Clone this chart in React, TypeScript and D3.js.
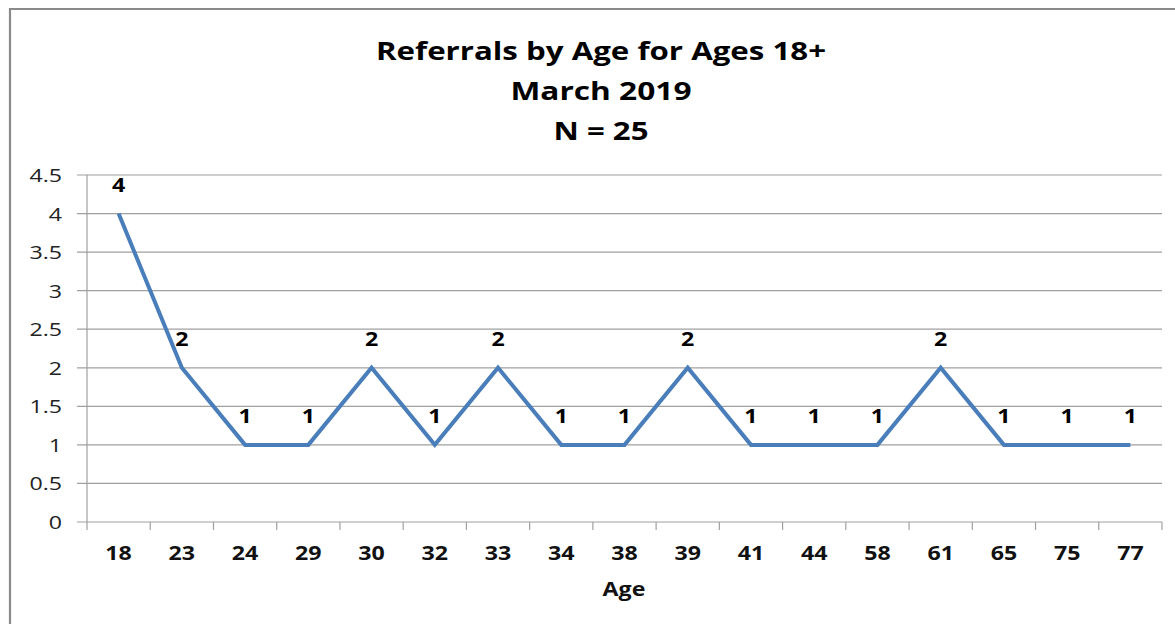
import React from "react";
import * as d3 from "d3";

const ages = ["18","23","24","29","30","32","33","34","38","39","41","44","58","61","65","75","77"];
const referrals = [4,2,1,1,2,1,2,1,1,2,1,1,1,2,1,1,1];
const yTicks = [0,0.5,1,1.5,2,2.5,3,3.5,4,4.5];
const titleLines = ["Referrals by Age for Ages 18+","March 2019","N = 25"];
const titleWidths = [450, 181, 95];
const xTitle = "Age";

const SX = 1.22;

function SText(props: { x: number; y: number; anchor: string; size: number; bold?: boolean; fill?: string; children: React.ReactNode }) {
  return (
    <g transform={`translate(${props.x},${props.y}) scale(${SX},1)`}>
      <text x={0} y={0} textAnchor={props.anchor as any} fontSize={props.size} fontWeight={props.bold ? "bold" : "normal"} fill={props.fill || "#000"}>{props.children}</text>
    </g>
  );
}

export default function App() {
  const W = 1175, H = 624;
  const left = 87, right = 1162, top = 175, bottom = 522;
  const x = d3.scaleBand<string>().domain(ages).range([left, right]);
  const y = d3.scaleLinear().domain([0, 4.5]).range([bottom, top]);
  const cx = (i: number) => (x(ages[i]) as number) + x.bandwidth() / 2;
  const line = d3.line<number>()
    .x((_, i) => cx(i))
    .y(d => y(d));
  const font = "'Open Sans', 'DejaVu Sans', sans-serif";
  const boundaries = ages.map(a => x(a) as number).concat([right]);
  return (
    <svg width={W} height={H} style={{ position: "absolute", left: 0, top: 0 }} fontFamily={font}>
      <rect x={0} y={0} width={W} height={H} fill="#fff" />
      <path d={`M10,${H + 5} L10,9 L${W + 5},9`} fill="none" stroke="#8a8a8a" strokeWidth={2.2} />
      {titleLines.map((t, i) => (
        <text key={t} x={601} y={60 + i * 40} textAnchor="middle" fontSize={25} fontWeight="bold" fill="#000"
          textLength={titleWidths[i]} lengthAdjust="spacingAndGlyphs">{t}</text>
      ))}
      {yTicks.map(t => (
        <g key={t}>
          <line x1={77} x2={right} y1={y(t)} y2={y(t)} stroke="#a0a0a0" strokeWidth={1.2} />
          <SText x={62} y={y(t) + 7} anchor="end" size={19} fill="#222">{t}</SText>
        </g>
      ))}
      <line x1={left} x2={left} y1={top} y2={bottom} stroke="#a0a0a0" strokeWidth={1.2} />
      {boundaries.map((b, i) => (
        <line key={i} x1={b} x2={b} y1={bottom} y2={bottom + 8} stroke="#a0a0a0" strokeWidth={1.2} />
      ))}
      {ages.map((a, i) => (
        <SText key={a} x={cx(i)} y={560} anchor="middle" size={19} bold fill="#111">{a}</SText>
      ))}
      <SText x={624} y={596} anchor="middle" size={19} bold fill="#111">{xTitle}</SText>
      <path d={line(referrals) || ""} fill="none" stroke="#4a7ebb" strokeWidth={4} strokeLinejoin="miter" />
      {referrals.map((v, i) => (
        <SText key={i} x={cx(i)} y={y(v) - 22} anchor="middle" size={19} bold fill="#000">{v}</SText>
      ))}
    </svg>
  );
}
